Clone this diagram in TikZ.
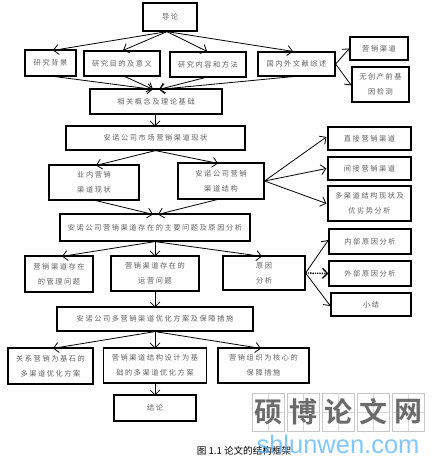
\documentclass[tikz,border=0pt]{standalone}
\usepackage{fontspec}
\usetikzlibrary{arrows.meta}
\setmainfont{Noto Sans CJK SC}
\newfontfamily\spaced[LetterSpace=22]{Noto Sans CJK SC}
\newfontfamily\capfont{Noto Sans CJK SC}
\newfontfamily\markfont{Noto Sans CJK SC Bold}
\newfontfamily\latinmark{Liberation Sans}
\tikzset{
  box/.style={draw=black,line width=1.2pt,fill=white,inner sep=0pt,align=center,
    text=black!62,font=\spaced\fontsize{7.2}{15}\selectfont},
  link/.style={draw=black,line width=0.8pt,-{Straight Barb[length=5pt,width=10pt]}},
  dottedlink/.style={link,line width=1.3pt,densely dotted},
  cell/.style={draw=black!22,line width=0.6pt,minimum width=32pt,minimum height=38pt,inner sep=0pt,
    text=black!58,font=\markfont\fontsize{28}{28}\selectfont,
    path picture={\draw[black!15,line width=0.4pt]
      (path picture bounding box.north) -- (path picture bounding box.south)
      (path picture bounding box.west) -- (path picture bounding box.east);}},
  capstyle/.style={inner sep=0pt,text=black,font=\capfont\fontsize{9.6}{10}\selectfont},
  urlstyle/.style={inner sep=0pt,text=blue!45!cyan!70!white,opacity=.7,font=\latinmark\fontsize{25.5}{27}\selectfont}
}
\newcommand{\low}[1]{\raisebox{-4pt}{#1}}
\begin{document}
\begin{tikzpicture}[x=1pt,y=-1pt]
\useasboundingbox (0,0) rectangle (441,464);
% boxes
\node[box,minimum width=54pt,minimum height=28pt] (dl) at (170,17) {\low{导论}};
\node[box,minimum width=51pt,minimum height=26pt] (a1) at (50.5,63) {研究背景};
\node[box,minimum width=76pt,minimum height=25pt] (a2) at (122,63.5) {研究目的及意义};
\node[box,minimum width=76pt,minimum height=25pt] (a3) at (208,64.5) {研究内容和方法};
\node[box,minimum width=77pt,minimum height=24pt] (a4) at (296.5,64) {国内外文献综述};
\node[box,minimum width=58pt,minimum height=23pt] (b1) at (379,48.5) {营销渠道};
\node[box,minimum width=57pt,minimum height=35pt] (b2) at (380.5,84.5) {无创产前基\\因检测};
\node[box,minimum width=132pt,minimum height=25pt] (c) at (156,101.5) {\low{相关概念及理论基础}};
\node[box,minimum width=179pt,minimum height=24pt] (d) at (155.5,138) {\low{安诺公司市场营销渠道现状}};
\node[box,minimum width=83pt,minimum height=23pt] (r1) at (369.5,138.5) {直接营销渠道};
\node[box,minimum width=83pt,minimum height=23pt] (r2) at (369.5,168.5) {间接营销渠道};
\node[box,minimum width=83pt,minimum height=35pt] (r3) at (369.5,203.5) {多渠道结构现状及\\优劣势分析};
\node[box,minimum width=90pt,minimum height=35pt] (e1) at (94,182.5) {业内营销\\渠道现状};
\node[box,minimum width=86pt,minimum height=36pt] (e2) at (221,181) {安诺公司营销\\渠道结构};
\node[box,minimum width=190pt,minimum height=27pt] (f) at (155,227.5) {\low{安诺公司营销渠道存在的主要问题及原因分析}};
\node[box,minimum width=68pt,minimum height=36pt] (g1) at (59,274) {营销渠道存在\\的管理问题};
\node[box,minimum width=88pt,minimum height=35pt] (g2) at (155,273.5) {营销渠道存在的\\运营问题};
\node[box,minimum width=82pt,minimum height=34pt] (g3) at (264,273) {原因\\分析};
\node[box,minimum width=82pt,minimum height=25pt] (s1) at (370,241.5) {内部原因分析};
\node[box,minimum width=82pt,minimum height=25pt] (s2) at (370,273.5) {外部原因分析};
\node[box,minimum width=80pt,minimum height=23pt] (s3) at (371,304.5) {小结};
\node[box,minimum width=196pt,minimum height=24pt] (h) at (155,319) {\low{安诺公司多营销渠道优化方案及保障措施}};
\node[box,minimum width=85pt,minimum height=36pt] (i1) at (50.5,366) {关系营销为基石的\\多渠道优化方案};
\node[box,minimum width=103pt,minimum height=35pt] (i2) at (155,365.5) {营销渠道结构设计为基\\础的多渠道优化方案};
\node[box,minimum width=91pt,minimum height=35pt] (i3) at (263.5,365.5) {营销组织为核心的\\保障措施};
\node[box,minimum width=82pt,minimum height=26pt] (j) at (155,408) {\low{结论}};
% connectors
\draw[link] ([xshift=-3pt]dl.south) -- ([xshift=2.5pt,yshift=-1pt]a1.north);
\draw[link] ([xshift=-3pt]dl.south) -- ([xshift=1pt]a2.north);
\draw[link] ([xshift=-3pt]dl.south) -- ([xshift=-1pt]a3.north);
\draw[link] ([xshift=-3pt]dl.south) -- ([xshift=-3.5pt]a4.north);
\draw[link] ([xshift=4.5pt]a1.south) -- ([xshift=-3pt,yshift=-1pt]c.north);
\draw[link] ([xshift=3pt]a2.south) -- ([xshift=-3pt,yshift=-1pt]c.north);
\draw[link] ([xshift=-3pt]a3.south) -- ([xshift=3pt,yshift=-1pt]c.north);
\draw[link] ([xshift=-3.5pt]a4.south) -- ([xshift=3pt,yshift=-1pt]c.north);
\draw[link] (a4.east) -- (b1.west);
\draw[link] (a4.east) -- ([yshift=-1pt]b2.west);
\draw[link] ([xshift=-1pt]c.south) -- ([xshift=-0.5pt,yshift=-1pt]d.north);
\draw[link] (d.south) -- ([xshift=2pt,yshift=-1pt]e1.north);
\draw[link] (d.south) -- ([xshift=-3pt,yshift=-1pt]e2.north);
\draw[link] ([xshift=2pt]e1.south) -- ([xshift=-2pt,yshift=-1pt]f.north);
\draw[link] ([xshift=-4pt]e2.south) -- ([xshift=3pt,yshift=-1pt]f.north);
\draw[link] (e2.east) -- ([xshift=-1pt,yshift=1.5pt]r1.west);
\draw[link] (e2.east) -- ([xshift=-1pt]r2.west);
\draw[link] (e2.east) -- ([xshift=-1pt]r3.west);
\draw[link] (f.south) -- ([xshift=3pt,yshift=-1pt]g1.north);
\draw[link] (f.south) -- ([yshift=-1pt]g2.north);
\draw[link] (f.south) -- ([xshift=-2pt,yshift=-1pt]g3.north);
\draw[link] (g3.east) -- ([yshift=1.5pt]s1.west);
\draw[dottedlink] (g3.east) -- (s2.west);
\draw[link] (g3.east) -- ([yshift=-1.5pt]s3.west);
\draw[link] (g2.south) -- ([yshift=-1pt]h.north);
\draw[link] (h.south) -- ([xshift=2.5pt,yshift=-1pt]i1.north);
\draw[link] (h.south) -- ([yshift=-1pt]i2.north);
\draw[link] (h.south) -- ([xshift=-2.5pt,yshift=-1pt]i3.north);
\draw[link] (i2.south) -- ([yshift=-1pt]j.north);
% watermark and caption
\node[cell] (w1) at (268,412) {硕};
\node[cell] (w2) at (303.5,412) {博};
\node[cell] (w3) at (338.5,412) {论};
\node[cell] (w4) at (373.5,412) {文};
\node[cell] (w5) at (408,412) {网};
\node[capstyle] (cap) at (244,450.5) {图 1.1 论文的结构框架};
\node[urlstyle] (url) at (338,444) {shlunwen.com};
\end{tikzpicture}
\end{document}
